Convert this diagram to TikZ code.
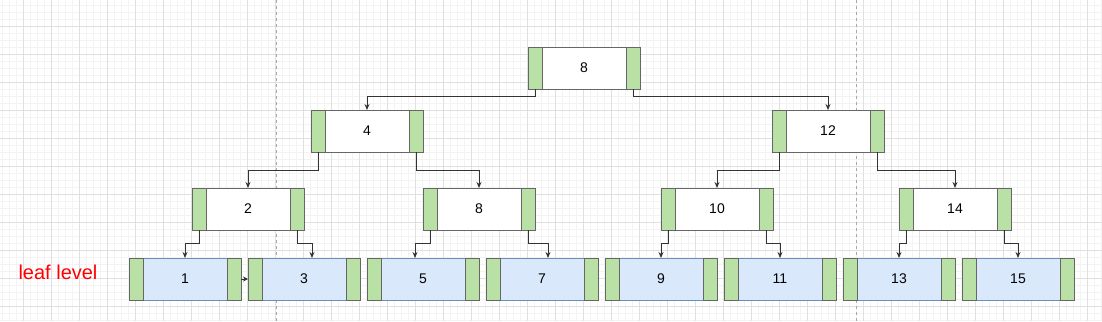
\documentclass[tikz,border=0pt]{standalone}
\usepackage{xcolor}
\usepackage{fontspec}
\setmainfont{Liberation Sans}
\usepackage{tikz}
\usetikzlibrary{arrows.meta,positioning}

\definecolor{keygreen}{HTML}{B9E0A5}
\definecolor{leafblue}{HTML}{DAE8FC}
\definecolor{leafedge}{HTML}{6C8EBF}
\definecolor{edgegray}{HTML}{666666}
\definecolor{minorgray}{HTML}{F3F3F3}
\definecolor{majorgray}{HTML}{E0E0E0}
\definecolor{splitgray}{HTML}{A8A8A8}

\begin{document}
\begin{tikzpicture}[
    x=1pt,y=-1pt,
    node distance=7pt,
    keynode/.style={rectangle,draw=edgegray,fill=white,line width=0.9pt,outer sep=0pt,
                    minimum width=112pt,minimum height=42pt,font=\fontsize{14}{16}\selectfont},
    leafnode/.style={keynode,draw=leafedge,fill=leafblue},
    ptrbox/.style={rectangle,draw=edgegray,fill=keygreen,line width=0.9pt,outer sep=0pt,
                   minimum width=14pt,minimum height=42pt,inner sep=0pt},
    arrowline/.style={draw=black!80,line width=0.9pt,-{Stealth[length=6pt,width=5pt]}},
    minorgrid/.style={draw=minorgray,line width=0.6pt},
    majorgrid/.style={draw=majorgray,line width=0.9pt},
    splitline/.style={draw=splitgray,line width=0.8pt,dash pattern=on 3pt off 3pt},
]
\useasboundingbox (0,0) rectangle (1102,321);
\fill[white] (0,0) rectangle (1102,321);

\foreach \i in {0,...,157} \draw[minorgrid] (2.3+7*\i,0) -- (2.3+7*\i,321);
\foreach \j in {0,...,45} \draw[minorgrid] (0,5+7*\j) -- (1102,5+7*\j);
\foreach \i in {0,...,38} \draw[majorgrid] (23.3+28*\i,0) -- (23.3+28*\i,321);
\foreach \j in {0,...,10} \draw[majorgrid] (0,26+28*\j) -- (1102,26+28*\j);

\draw[splitline] (276,0) -- (276,321);
\draw[splitline] (856,0) -- (856,321);

\node[keynode] (n8) at (584,68) {8};
\node[keynode] (n4) at (367,131) {4};
\node[keynode] (n12) at (828,131) {12};
\node[keynode] (n2) at (248,209) {2};
\node[keynode] (n8b) at (479,209) {8};
\node[keynode] (n10) at (717,209) {10};
\node[keynode] (n14) at (955,209) {14};

\node[leafnode] (l1) at (185,279) {1};
\node[leafnode,right=of l1] (l3) {3};
\node[leafnode,right=of l3] (l5) {5};
\node[leafnode,right=of l5] (l7) {7};
\node[leafnode,right=of l7] (l9) {9};
\node[leafnode,right=of l9] (l11) {11};
\node[leafnode,right=of l11] (l13) {13};
\node[leafnode,right=of l13] (l15) {15};

\foreach \n in {n8,n4,n12,n2,n8b,n10,n14,l1,l3,l5,l7,l9,l11,l13,l15} {
    \node[ptrbox,anchor=west] (\n l) at (\n.west) {};
    \node[ptrbox,anchor=east] (\n r) at (\n.east) {};
}

\node[text=red,font=\fontsize{20}{24}\selectfont] (lbl) at (58,272) {leaf level};

\draw[arrowline] (n8l.south) -- ++(0,7) -| (n4.north);
\draw[arrowline] (n8r.south) -- ++(0,7) -| (n12.north);
\draw[arrowline] (n4l.south) -- ++(0,18) -| (n2.north);
\draw[arrowline] (n4r.south) -- ++(0,18) -| (n8b.north);
\draw[arrowline] (n12l.south) -- ++(0,18) -| (n10.north);
\draw[arrowline] (n12r.south) -- ++(0,18) -| (n14.north);

\draw[arrowline] (n2l.south) -- ++(0,13) -| (l1.north);
\draw[arrowline] (n2r.south) -- ++(0,13) -| ([xshift=8pt]l3.north);
\draw[arrowline] (n8bl.south) -- ++(0,13) -| ([xshift=-8pt]l5.north);
\draw[arrowline] (n8br.south) -- ++(0,13) -| ([xshift=6pt]l7.north);
\draw[arrowline] (n10l.south) -- ++(0,13) -| (l9.north);
\draw[arrowline] (n10r.south) -- ++(0,13) -| (l11.north);
\draw[arrowline] (n14l.south) -- ++(0,13) -| (l13.north);
\draw[arrowline] (n14r.south) -- ++(0,13) -| (l15.north);

\draw[arrowline,-{Stealth[length=5pt,width=5pt]}] (l1r.east) -- (l3l.west);
\end{tikzpicture}
\end{document}
